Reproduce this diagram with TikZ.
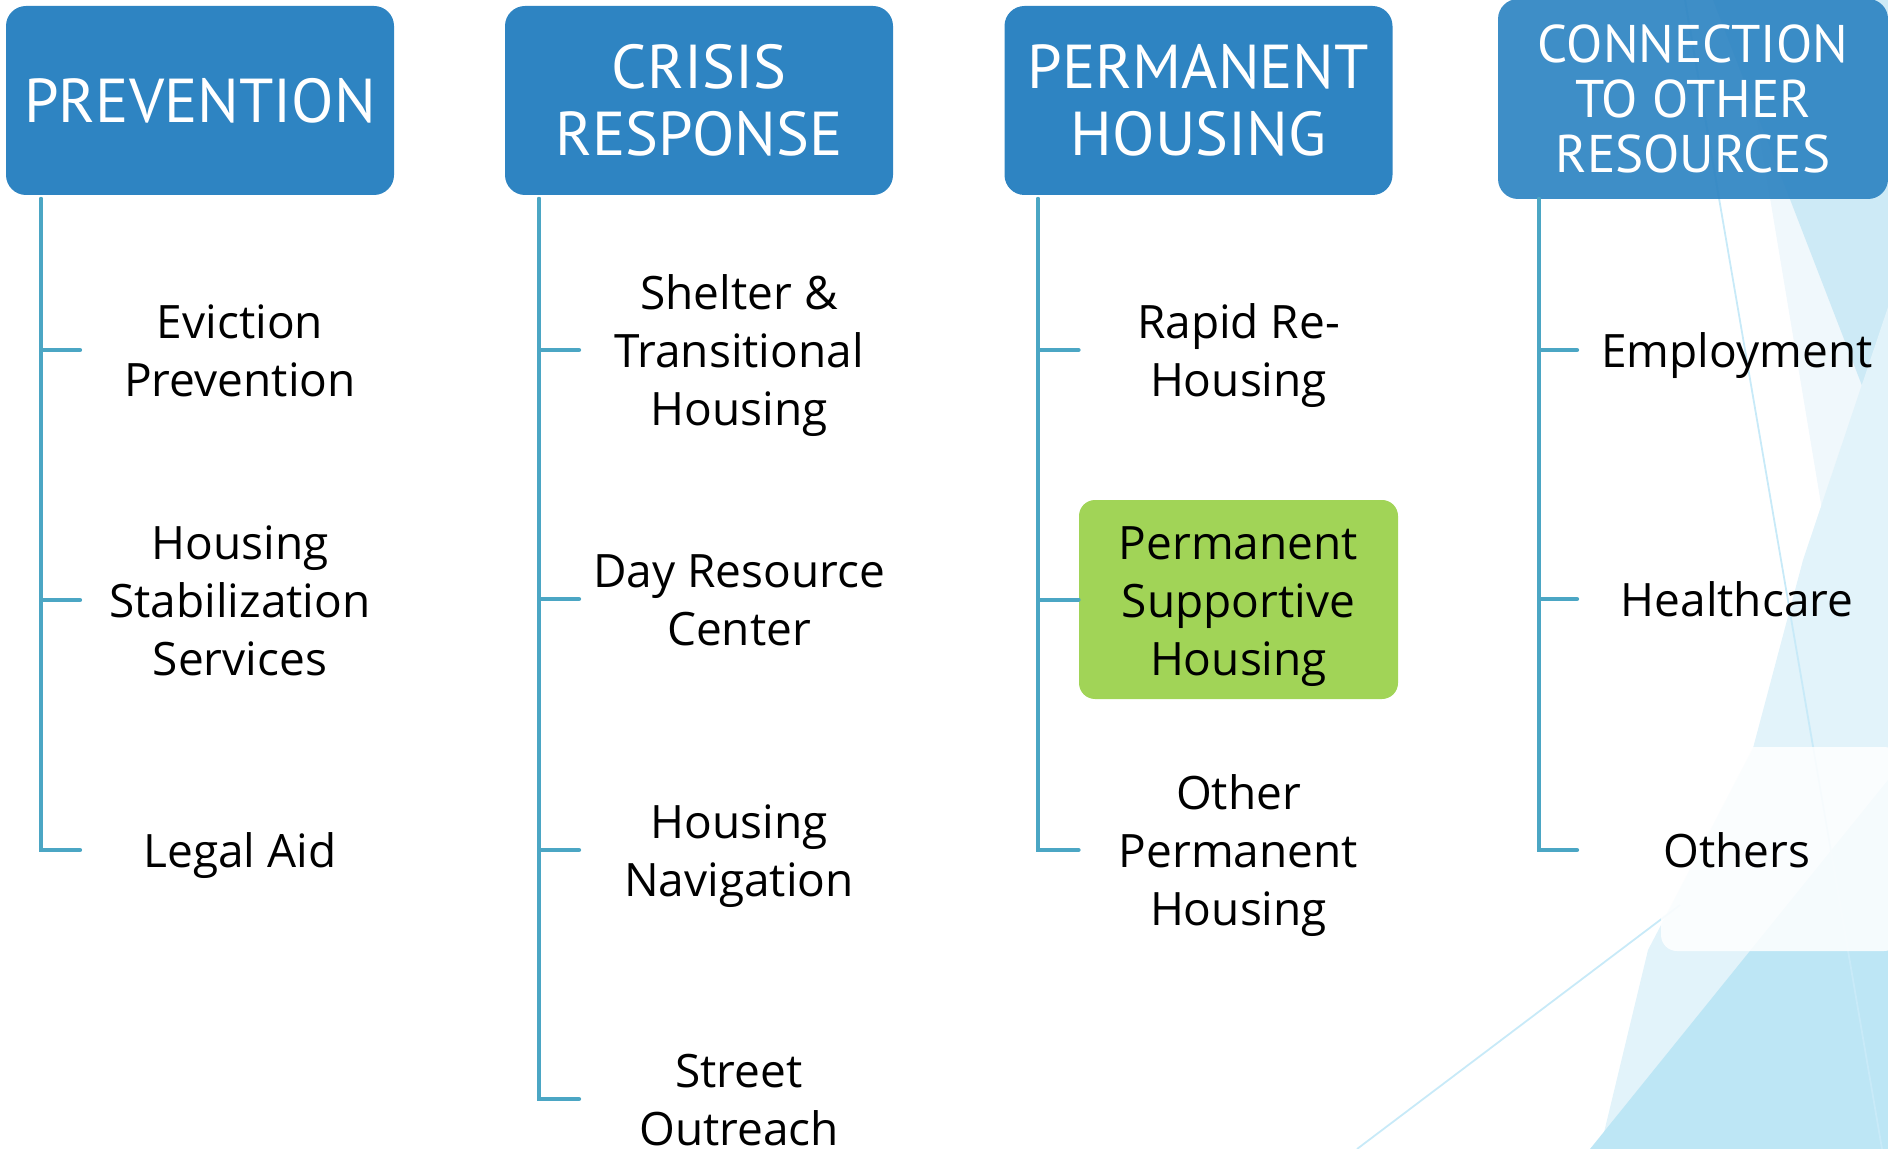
\documentclass[tikz,border=0pt]{standalone}
\usepackage{fontspec}
\setmainfont{Open Sans}
\newfontfamily\hdrfont{PT Sans}
\usepackage{xcolor}
\usetikzlibrary{positioning}
\definecolor{hdrblue}{RGB}{46,132,194}
\definecolor{linecol}{RGB}{75,166,196}
\definecolor{psgreen}{RGB}{161,212,87}
\definecolor{bgA}{RGB}{205,234,246}
\definecolor{bgB}{RGB}{226,243,250}
\definecolor{bgC}{RGB}{189,230,245}
\definecolor{bgV}{RGB}{240,248,252}
\definecolor{bgL}{RGB}{200,234,248}
% item text: fixed line box so that descenders do not move it
\newcommand{\itext}[1]{\begin{tabular}{@{}c@{}}\rule{0pt}{26.2pt}#1\end{tabular}}
\tikzset{
  hdr/.style={fill=hdrblue,rounded corners=10pt,minimum width=194pt,minimum height=94.5pt,
    text=white,align=center,inner sep=0pt,font=\hdrfont\fontsize{31}{33.5}\selectfont},
  item/.style={minimum width=159.5pt,inner sep=0pt,font=\fontsize{23}{29}\selectfont},
  conn/.style={draw=linecol,line width=2pt,line cap=round}
}

\begin{document}
\begin{tikzpicture}[x=0.5pt,y=-0.5pt]
  \useasboundingbox (0,0) rectangle (1888,1149);
  % background shapes on the right
  \fill[bgV] (1737,0) -- (1888,0) -- (1888,906) -- cycle;
  \fill[bgA] (1713,0) -- (1888,0) -- (1888,453) -- cycle;
  \fill[bgB] (1888,307) -- (1803,560) -- (1753,748) -- (1648,950) -- (1600,1149) -- (1888,1149) -- cycle;
  \fill[bgC] (1590,1149) -- (1888,1149) -- (1888,780) -- cycle;
  \draw[bgL,line width=0.9pt] (1685,0) -- (1882,1149);
  \draw[bgL,line width=0.9pt] (1357,1149) -- (1680,905);
  \fill[white,fill opacity=0.85,rounded corners=8pt] (1661,747) rectangle (1900,951);

  % headers
  \node[hdr] (h1) at (200,100.5) {PREVENTION};
  \node[hdr] (h2) at (699,100.5) {CRISIS\\RESPONSE};
  \node[hdr] (h3) at (1198.5,100.5) {PERMANENT\\HOUSING};
  \node[hdr,fill opacity=0.92,text opacity=1,minimum width=195pt,minimum height=100pt,
    font=\hdrfont\fontsize{26.5}{27.5}\selectfont] (h4) at (1693,99) {CONNECTION\\TO OTHER\\RESOURCES};

  % items
  \node[item] (a1) at (240,350) {\itext{Eviction\\Prevention}};
  \node[item] (a2) at (240,600) {\itext{Housing\\Stabilization\\Services}};
  \node[item] (a3) at (240,850) {\itext{Legal Aid}};

  \node[item] (b1) at (739,350) {\itext{Shelter \&\\Transitional\\Housing}};
  \node[item] (b2) at (739,599) {\itext{Day Resource\\Center}};
  \node[item] (b3) at (739,850) {\itext{Housing\\Navigation}};
  \node[item] (b4) at (739,1099) {\itext{Street\\Outreach}};

  \node[item] (c1) at (1238.5,350) {\itext{Rapid Re-\\Housing}};
  \node[item,fill=psgreen,rounded corners=8pt,minimum height=99.5pt] (c2) at (1238.5,599.5) {\itext{Permanent\\Supportive\\Housing}};
  \node[item] (c3) at (1238.5,850) {\itext{Other\\Permanent\\Housing}};

  \node[item] (d1) at (1737,350) {\itext{Employment}};
  \node[item] (d2) at (1737,599) {\itext{Healthcare}};
  \node[item] (d3) at (1737,850) {\itext{Others}};

  % tree lines
  \coordinate (p1) at (41,199);
  \coordinate (p2) at (539,199);
  \coordinate (p3) at (1038,199);
  \coordinate (p4) at (1539,199);
  \foreach \i in {a1,a2,a3} \draw[conn] (p1) |- (\i.west);
  \foreach \i in {b1,b2,b3,b4} \draw[conn] (p2) |- (\i.west);
  \foreach \i in {c1,c2,c3} \draw[conn] (p3) |- (\i.west);
  \foreach \i in {d1,d2,d3} \draw[conn] (p4) |- (\i.west);
\end{tikzpicture}
\end{document}
